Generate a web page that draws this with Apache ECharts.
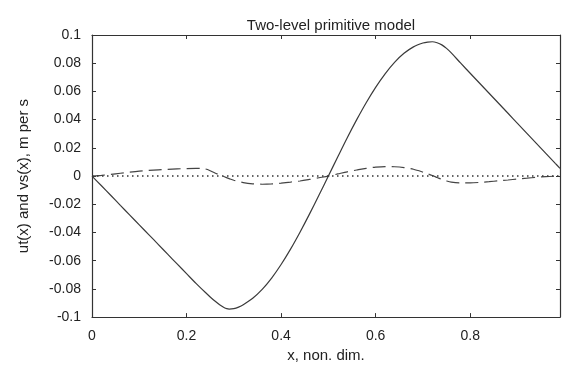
<!DOCTYPE html>
<html>
<head>
<meta charset="utf-8">
<script src="https://cdn.jsdelivr.net/npm/echarts@6/dist/echarts.min.js"></script>
<style>html,body{margin:0;padding:0;background:#fff;}#c{width:566px;height:368px;}</style>
</head>
<body>
<div id="c"></div>
<script>
var titleText = 'Two-level primitive model';
var xName = 'x, non. dim.';
var yName = 'ut(x) and vs(x), m per s';

var utX = [0, 0.02, 0.04, 0.06, 0.08, 0.10, 0.12, 0.14, 0.16, 0.18, 0.20, 0.22, 0.24, 0.25, 0.26, 0.27, 0.28, 0.285, 0.29, 0.30, 0.31, 0.32, 0.34, 0.36, 0.38, 0.40, 0.42, 0.44, 0.46, 0.48, 0.50, 0.52, 0.54, 0.56, 0.58, 0.60, 0.62, 0.64, 0.66, 0.68, 0.70, 0.71, 0.72, 0.73, 0.74, 0.75, 0.76, 0.78, 0.80, 0.82, 0.84, 0.86, 0.88, 0.90, 0.92, 0.94, 0.96, 0.98, 0.99];
var utY = [0, -0.0069, -0.0138, -0.0208, -0.0277, -0.0346, -0.0415, -0.0484, -0.0554, -0.0623, -0.0692, -0.0761, -0.0826, -0.0857, -0.0886, -0.0912, -0.0933, -0.0940, -0.0943, -0.0940, -0.0929, -0.0912, -0.0866, -0.0803, -0.0723, -0.0627, -0.0518, -0.0398, -0.0270, -0.0136, 0, 0.0137, 0.0272, 0.0400, 0.0520, 0.0629, 0.0725, 0.0806, 0.0870, 0.0916, 0.0943, 0.0950, 0.0952, 0.0945, 0.0930, 0.0905, 0.0873, 0.0800, 0.0729, 0.0658, 0.0587, 0.0516, 0.0445, 0.0374, 0.0303, 0.0232, 0.0161, 0.0090, 0.0055];

var vsX = [0, 0.02, 0.04, 0.06, 0.08, 0.10, 0.12, 0.14, 0.16, 0.18, 0.20, 0.22, 0.23, 0.24, 0.25, 0.26, 0.27, 0.28, 0.29, 0.30, 0.32, 0.34, 0.36, 0.38, 0.40, 0.42, 0.44, 0.46, 0.48, 0.50, 0.52, 0.54, 0.56, 0.58, 0.60, 0.62, 0.64, 0.66, 0.68, 0.70, 0.71, 0.72, 0.73, 0.74, 0.75, 0.76, 0.78, 0.80, 0.82, 0.84, 0.86, 0.88, 0.90, 0.92, 0.94, 0.96, 0.98, 0.99];
var vsY = [0, 0.0005, 0.0012, 0.0020, 0.0028, 0.0035, 0.0040, 0.0044, 0.0048, 0.0051, 0.0053, 0.0054, 0.0054, 0.0050, 0.0038, 0.0022, 0.0008, -0.0005, -0.0018, -0.0030, -0.0046, -0.0055, -0.0058, -0.0056, -0.0050, -0.0043, -0.0035, -0.0024, -0.0012, 0, 0.0015, 0.0030, 0.0043, 0.0055, 0.0063, 0.0067, 0.0066, 0.0060, 0.0048, 0.0028, 0.0016, 0.0004, -0.0010, -0.0024, -0.0035, -0.0043, -0.0048, -0.0048, -0.0045, -0.0040, -0.0034, -0.0028, -0.0021, -0.0015, -0.0009, -0.0004, -0.0001, 0];

var zeroX = [0, 0.99];
var zeroY = [0, 0];

var xMin = 0, xMax = 0.99, xStep = 0.2;
var yMin = -0.1, yMax = 0.1, yStep = 0.02;

function pairs(xs, ys) { return xs.map(function (x, i) { return [x, ys[i]]; }); }

var font = 'Liberation Sans, Arial, sans-serif';
var axisColor = '#333';

function xLabel(v) {
  var k = v / xStep;
  if (Math.abs(k - Math.round(k)) > 1e-6) return '';
  return String(+v.toFixed(1));
}

var chart = echarts.init(document.getElementById('c'), null, {renderer: 'canvas'});
chart.setOption({
  animation: false,
  backgroundColor: '#fff',
  title: {
    text: titleText, left: 326, top: 13, textAlign: 'center',
    textStyle: {fontFamily: font, fontSize: 15, fontWeight: 'normal', color: '#222'}
  },
  grid: {left: 92, right: 6, top: 35, bottom: 44, show: false},
  xAxis: [{
    type: 'value', min: xMin, max: xMax, interval: xStep,
    name: xName, nameLocation: 'middle', nameGap: 26,
    nameTextStyle: {fontFamily: font, fontSize: 15, color: '#222'},
    axisLine: {show: true, onZero: false, lineStyle: {color: axisColor, width: 1.2}},
    axisTick: {show: true, inside: true, length: 4, lineStyle: {color: axisColor}},
    axisLabel: {fontFamily: font, fontSize: 14, color: '#222', margin: 12, formatter: xLabel, showMaxLabel: false},
    splitLine: {show: false}
  }, {
    type: 'value', position: 'top', min: xMin, max: xMax, interval: xStep,
    axisLine: {show: true, onZero: false, lineStyle: {color: axisColor, width: 1.2}},
    axisTick: {show: true, inside: true, length: 4, lineStyle: {color: axisColor}},
    axisLabel: {show: false},
    splitLine: {show: false}
  }],
  yAxis: [{
    type: 'value', min: yMin, max: yMax, interval: yStep,
    name: yName, nameLocation: 'middle', nameGap: 61,
    nameTextStyle: {fontFamily: font, fontSize: 15, color: '#222'},
    axisLine: {show: true, onZero: false, lineStyle: {color: axisColor, width: 1.2}},
    axisTick: {show: true, inside: true, length: 4, lineStyle: {color: axisColor}},
    axisLabel: {fontFamily: font, fontSize: 14, color: '#222', margin: 11},
    splitLine: {show: false}
  }, {
    type: 'value', position: 'right', min: yMin, max: yMax, interval: yStep,
    axisLine: {show: true, onZero: false, lineStyle: {color: axisColor, width: 1.2}},
    axisTick: {show: true, inside: true, length: 4, lineStyle: {color: axisColor}},
    axisLabel: {show: false},
    splitLine: {show: false}
  }],
  series: [{
    name: 'ut', type: 'line', data: pairs(utX, utY), showSymbol: false, smooth: 0.3,
    lineStyle: {color: '#3a3a3a', width: 1.2}
  }, {
    name: 'vs', type: 'line', data: pairs(vsX, vsY), showSymbol: false, smooth: 0.3,
    lineStyle: {color: '#444', width: 1.2, type: [13, 6]}
  }, {
    name: 'zero', type: 'line', data: pairs(zeroX, zeroY), showSymbol: false,
    lineStyle: {color: '#333', width: 1.5, type: [1.5, 3.5]}
  }]
});
</script>
</body>
</html>
